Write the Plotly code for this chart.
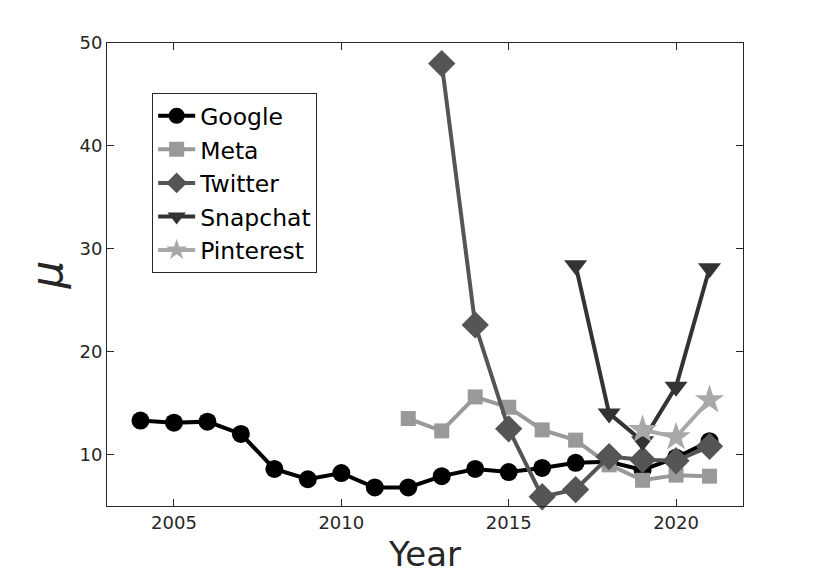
import plotly.graph_objects as go

google_years = list(range(2004, 2022))
google_mu = [13.3, 13.1, 13.2, 12.0, 8.6, 7.6, 8.2, 6.8, 6.8, 7.9, 8.6, 8.3, 8.7, 9.2, 9.3, 8.5, 9.7, 11.3]

meta_years = list(range(2012, 2022))
meta_mu = [13.5, 12.3, 15.6, 14.6, 12.4, 11.4, 9.0, 7.5, 8.0, 7.9]

twitter_years = list(range(2013, 2022))
twitter_mu = [48.0, 22.6, 12.5, 5.9, 6.6, 9.8, 9.5, 9.4, 10.8]

snapchat_years = list(range(2017, 2022))
snapchat_mu = [28.4, 14.0, 11.3, 16.6, 28.1]

pinterest_years = [2019, 2020, 2021]
pinterest_mu = [12.4, 11.7, 15.3]

x_ticks = [2005, 2010, 2015, 2020]
y_ticks = [10, 20, 30, 40, 50]

series = [
    ("Google", google_years, google_mu, "#000000", "circle", 18),
    ("Meta", meta_years, meta_mu, "#999999", "square", 15),
    ("Twitter", twitter_years, twitter_mu, "#555555", "diamond", 21),
    ("Snapchat", snapchat_years, snapchat_mu, "#333333", "triangle-down", 20),
    ("Pinterest", pinterest_years, pinterest_mu, "#a8a8a8", "star", 22),
]

fig = go.Figure()
for name, xs, ys, color, sym, size in series:
    fig.add_trace(go.Scatter(
        x=xs, y=ys, name=name, mode="lines+markers",
        line=dict(color=color, width=4),
        marker=dict(symbol=sym, size=size, color=color, line=dict(width=0)),
        cliponaxis=False,
    ))

font = "DejaVu Sans"
fig.update_layout(
    width=822, height=576,
    margin=dict(l=99, r=87, t=35, b=78),
    paper_bgcolor="white", plot_bgcolor="white",
    font=dict(family=font, color="#262626", size=18),
    showlegend=True,
    legend=dict(
        x=0.071, y=0.892, xanchor="left", yanchor="top",
        bordercolor="#262626", borderwidth=1, bgcolor="white",
        font=dict(size=23.5, color="#000000", family=font),
        tracegroupgap=0, itemwidth=37,
    ),
    xaxis=dict(
        range=[2003, 2022], tickvals=x_ticks, ticktext=[str(v) for v in x_ticks],
        ticks="inside", ticklen=7, tickcolor="#262626", tickwidth=1,
        showline=True, linecolor="#262626", linewidth=1, mirror="ticks",
        showgrid=False, zeroline=False,
        title=dict(text="Year", font=dict(size=34, color="#262626"), standoff=10),
        tickfont=dict(size=18, color="#262626"),
    ),
    yaxis=dict(
        range=[5, 50], tickvals=y_ticks, ticktext=[str(v) for v in y_ticks],
        ticks="inside", ticklen=7, tickcolor="#262626", tickwidth=1,
        showline=True, linecolor="#262626", linewidth=1, mirror="ticks",
        showgrid=False, zeroline=False,
        title=dict(text="<i>μ</i>", font=dict(size=44, color="#262626"), standoff=3),
        tickfont=dict(size=18, color="#262626"),
    ),
)

fig.write_html("out.html")
